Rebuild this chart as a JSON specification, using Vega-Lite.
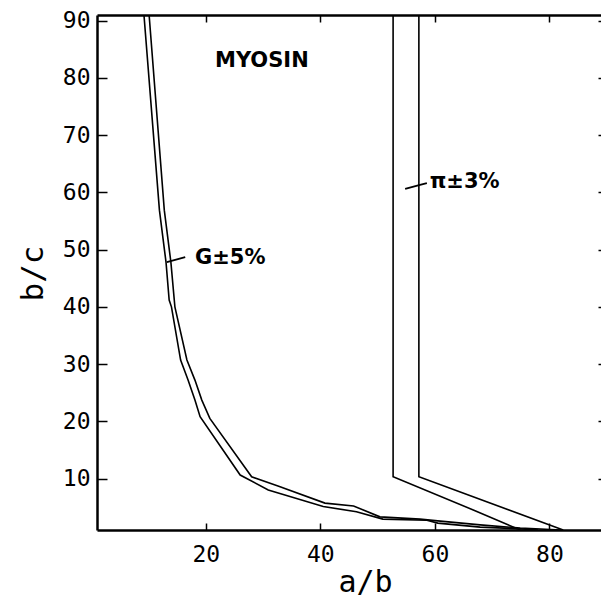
{
  "$schema": "https://vega.github.io/schema/vega-lite/v6.json",
  "width": 504,
  "height": 515,
  "autosize": {"type": "none"},
  "padding": {"left": 97, "top": 15, "right": 0, "bottom": 70},
  "background": "white",
  "config": {"view": {"stroke": null}},
  "datasets": {
    "curves": [
      {"s": "GL", "i": 0, "x": 9.2, "y": 91},
      {"s": "GL", "i": 1, "x": 11.9, "y": 56.9},
      {"s": "GL", "i": 2, "x": 13.05, "y": 47.8},
      {"s": "GL", "i": 3, "x": 13.6, "y": 41.2},
      {"s": "GL", "i": 4, "x": 14.0, "y": 40.0},
      {"s": "GL", "i": 5, "x": 15.6, "y": 30.7},
      {"s": "GL", "i": 6, "x": 16.9, "y": 27.2},
      {"s": "GL", "i": 7, "x": 18.1, "y": 23.7},
      {"s": "GL", "i": 8, "x": 19.0, "y": 20.8},
      {"s": "GL", "i": 9, "x": 26.0, "y": 10.6},
      {"s": "GL", "i": 10, "x": 30.9, "y": 8.0},
      {"s": "GL", "i": 11, "x": 40.5, "y": 5.1},
      {"s": "GL", "i": 12, "x": 46.3, "y": 4.2},
      {"s": "GL", "i": 13, "x": 50.9, "y": 2.9},
      {"s": "GL", "i": 14, "x": 58.6, "y": 2.7},
      {"s": "GL", "i": 15, "x": 60.5, "y": 2.2},
      {"s": "GL", "i": 16, "x": 67.9, "y": 1.5},
      {"s": "GL", "i": 17, "x": 74.9, "y": 1.2},
      {"s": "GL", "i": 18, "x": 78.0, "y": 1.0},
      {"s": "GR", "i": 0, "x": 10.1, "y": 91},
      {"s": "GR", "i": 1, "x": 12.75, "y": 56.9},
      {"s": "GR", "i": 2, "x": 13.9, "y": 47.8},
      {"s": "GR", "i": 3, "x": 14.6, "y": 40.0},
      {"s": "GR", "i": 4, "x": 16.7, "y": 30.7},
      {"s": "GR", "i": 5, "x": 18.1, "y": 27.2},
      {"s": "GR", "i": 6, "x": 19.3, "y": 23.7},
      {"s": "GR", "i": 7, "x": 20.7, "y": 20.5},
      {"s": "GR", "i": 8, "x": 28.0, "y": 10.3},
      {"s": "GR", "i": 9, "x": 32.6, "y": 8.7},
      {"s": "GR", "i": 10, "x": 40.8, "y": 5.7},
      {"s": "GR", "i": 11, "x": 45.8, "y": 5.2},
      {"s": "GR", "i": 12, "x": 50.4, "y": 3.3},
      {"s": "GR", "i": 13, "x": 57.4, "y": 2.9},
      {"s": "GR", "i": 14, "x": 60.5, "y": 2.6},
      {"s": "GR", "i": 15, "x": 67.9, "y": 1.9},
      {"s": "GR", "i": 16, "x": 74.9, "y": 1.35},
      {"s": "GR", "i": 17, "x": 82.0, "y": 1.0},
      {"s": "PL", "i": 0, "x": 52.7, "y": 91},
      {"s": "PL", "i": 1, "x": 52.7, "y": 10.3},
      {"s": "PL", "i": 2, "x": 66.7, "y": 4.5},
      {"s": "PL", "i": 3, "x": 74.9, "y": 1.0},
      {"s": "PR", "i": 0, "x": 57.2, "y": 91},
      {"s": "PR", "i": 1, "x": 57.2, "y": 10.3},
      {"s": "PR", "i": 2, "x": 82.4, "y": 1.0}
    ],
    "leaders": [
      {"s": "G", "i": 0, "x": 13.2, "y": 47.8},
      {"s": "G", "i": 1, "x": 16.4, "y": 48.7},
      {"s": "P", "i": 0, "x": 54.8, "y": 60.6},
      {"s": "P", "i": 1, "x": 57.4, "y": 61.3},
      {"s": "P", "i": 2, "x": 58.6, "y": 61.6}
    ],
    "labels": [
      {"t": "MYOSIN", "x": 21.6, "y": 83.0},
      {"t": "G±5%", "x": 18.1, "y": 48.5},
      {"t": "π±3%", "x": 59.1, "y": 61.8}
    ]
  },
  "layer": [
    {
      "data": {"name": "curves"},
      "mark": {"type": "line", "color": "black", "strokeWidth": 1.6, "clip": true},
      "encoding": {
        "x": {"field": "x", "type": "quantitative", "scale": {"domain": [1, 89], "nice": false, "zero": false},
          "axis": {"orient": "bottom", "values": [20, 40, 60, 80], "title": "a/b", "grid": false,
            "tickSize": -7, "tickColor": "black", "tickWidth": 1.5,
            "domainColor": "black", "domainWidth": 2.5,
            "labelFont": "DejaVu Sans Mono", "labelFontSize": 23, "labelColor": "black", "labelPadding": 20, "labelFlush": false,
            "titleFont": "DejaVu Sans Mono", "titleFontSize": 30, "titleFontWeight": "normal", "titleColor": "black",
            "titleX": 268, "titleY": 61, "titleBaseline": "alphabetic", "titleAlign": "center"}},
        "y": {"field": "y", "type": "quantitative", "scale": {"domain": [1, 91], "nice": false, "zero": false},
          "axis": {"orient": "left", "values": [10, 20, 30, 40, 50, 60, 70, 80, 90], "title": "b/c", "grid": false,
            "tickSize": -10, "tickColor": "black", "tickWidth": 1.5,
            "domainColor": "black", "domainWidth": 2.5,
            "labelFont": "DejaVu Sans Mono", "labelFontSize": 23, "labelColor": "black", "labelPadding": 17, "labelFlush": false,
            "titleFont": "DejaVu Sans Mono", "titleFontSize": 31, "titleFontWeight": "normal", "titleColor": "black",
            "titleAngle": 270, "titleX": -55, "titleY": 258, "titleBaseline": "alphabetic", "titleAlign": "center"}},
        "detail": {"field": "s"},
        "order": {"field": "i", "type": "quantitative"}
      }
    },
    {
      "data": {"name": "leaders"},
      "mark": {"type": "line", "color": "black", "strokeWidth": 1.8, "clip": true},
      "encoding": {
        "x": {"field": "x", "type": "quantitative",
          "axis": {"orient": "top", "values": [20, 40, 60, 80], "title": null, "labels": false, "grid": false,
            "tickSize": -7, "tickColor": "black", "tickWidth": 1.5, "domainColor": "black", "domainWidth": 2.5}},
        "y": {"field": "y", "type": "quantitative",
          "axis": {"orient": "right", "values": [10, 20, 30, 40, 50, 60, 70, 80, 90], "title": null, "labels": false, "grid": false,
            "domain": false, "tickSize": -3, "tickColor": "black", "tickWidth": 1.5}},
        "detail": {"field": "s"},
        "order": {"field": "i", "type": "quantitative"}
      }
    },
    {
      "data": {"name": "labels"},
      "mark": {"type": "text", "align": "left", "baseline": "middle", "font": "DejaVu Sans", "fontWeight": "bold", "fontSize": 21, "color": "black"},
      "encoding": {
        "x": {"field": "x", "type": "quantitative", "axis": null},
        "y": {"field": "y", "type": "quantitative", "axis": null},
        "text": {"field": "t"}
      }
    }
  ],
  "resolve": {"axis": {"x": "independent", "y": "independent"}}
}
